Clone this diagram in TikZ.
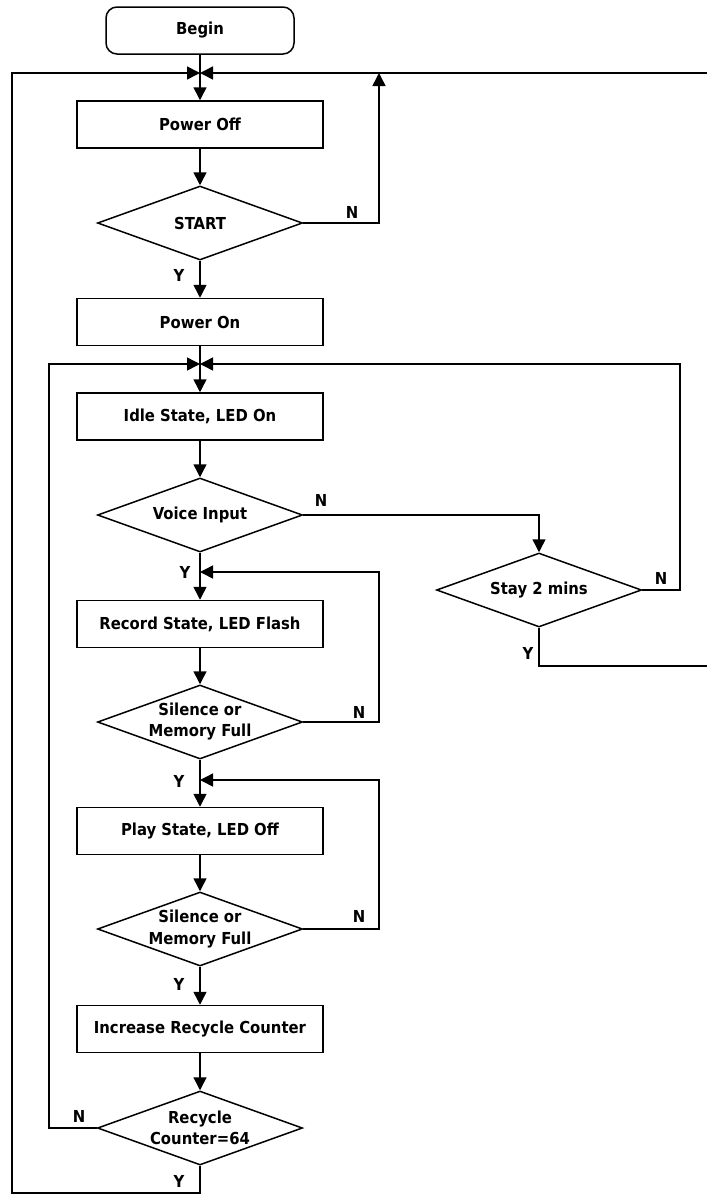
\documentclass[tikz,border=0pt]{standalone}
\usepackage{fontspec}
\setmainfont{DejaVu Sans Condensed}
\usetikzlibrary{arrows.meta,shapes.geometric}
\begin{document}
\begin{tikzpicture}[x=1pt,y=-1pt,
  font=\bfseries\fontsize{16.5}{21}\selectfont,
  line width=1.5pt,
  arr/.style={-{Triangle[length=13pt,width=13pt]}},
  procbox/.style={draw,rectangle,minimum width=246pt,minimum height=47pt,inner sep=0pt},
  termbox/.style={draw,rectangle,rounded corners=11pt,minimum width=188pt,minimum height=47pt,inner sep=0pt},
  decis/.style={draw,diamond,minimum width=205pt,minimum height=74pt,inner sep=0pt},
  txt/.style={align=center,inner sep=0pt},
  lbl/.style={inner sep=0pt}]
\useasboundingbox (0,0) rectangle (707,1194);

% nodes
\node[termbox] (begin) at (200,30.5) {Begin};
\coordinate (j1) at (200,73);
\node[procbox] (poweroff) at (200,124.5) {Power Off};
\node[decis] (start) at (200,223) {};
\node[txt] (starttxt) at (start) {START};
\node[procbox] (poweron) at (200,322) {Power On};
\coordinate (j2) at (200,364);
\node[procbox] (idle) at (200,416.5) {Idle State, LED On};
\node[decis] (voice) at (200,515) {};
\node[txt] (voicetxt) at (voice) {Voice Input};
\node[decis] (stay) at (539,590) {};
\node[txt] (staytxt) at (stay) {Stay 2 mins};
\coordinate (j3) at (200,572);
\node[procbox] (record) at (200,624) {Record State, LED Flash};
\node[decis] (sil1) at (200,722) {};
\node[txt] (sil1txt) at (sil1) {Silence or\\Memory Full};
\coordinate (j4) at (200,780);
\node[procbox] (play) at (200,831) {Play State, LED Off};
\node[decis] (sil2) at (200,929) {};
\node[txt] (sil2txt) at (sil2) {Silence or\\Memory Full};
\node[procbox] (incr) at (200,1029) {Increase Recycle Counter};
\node[decis] (recyc) at (200,1128) {};
\node[txt] (recyctxt) at (recyc) {Recycle\\Counter=64};

% helper coordinates
\coordinate (topright) at (707,73);
\coordinate (startn) at (379,73);
\coordinate (stayr) at (680,590);
\coordinate (stayybot) at (539,666);
\coordinate (stayyend) at (707,666);
\coordinate (s1r) at (379,722);
\coordinate (s2r) at (379,929);
\coordinate (recl) at (49,1128);
\coordinate (recbot) at (200,1193);
\coordinate (outl) at (12,1193);
\coordinate (outtop) at (12,73);

% connectors
\draw (begin.south) -- (j1);
\draw[arr] (j1) -- (poweroff.north);
\draw[arr] (poweroff.south) -- (start.north);
\draw[arr] (start.east) -| (startn);
\draw[arr] (topright) -- (j1);
\draw[arr] (start.south) -- (poweron.north);
\draw (poweron.south) -- (j2);
\draw[arr] (j2) -- (idle.north);
\draw[arr] (idle.south) -- (voice.north);
\draw[arr] (voice.east) -| (stay.north);
\draw[arr] (stay.east) -- (stayr) |- (j2);
\draw (stay.south) -- (stayybot) -- (stayyend);
\draw (voice.south) -- (j3);
\draw[arr] (j3) -- (record.north);
\draw[arr] (record.south) -- (sil1.north);
\draw[arr] (sil1.east) -- (s1r) |- (j3);
\draw (sil1.south) -- (j4);
\draw[arr] (j4) -- (play.north);
\draw[arr] (play.south) -- (sil2.north);
\draw[arr] (sil2.east) -- (s2r) |- (j4);
\draw[arr] (sil2.south) -- (incr.north);
\draw[arr] (incr.south) -- (recyc.north);
\draw[arr] (recyc.west) -- (recl) |- (j2);
\draw[arr] (recyc.south) -- (recbot) -- (outl) -- (outtop) -- (j1);

% labels
\node[lbl] (n1) at (352,212) {N};
\node[lbl] (y1) at (179,275) {Y};
\node[lbl] (n2) at (321,500) {N};
\node[lbl] (n3) at (661,578) {N};
\node[lbl] (y2) at (528,653) {Y};
\node[lbl] (y3) at (185,572) {Y};
\node[lbl] (n4) at (359,712) {N};
\node[lbl] (y4) at (179,781) {Y};
\node[lbl] (n5) at (359,916) {N};
\node[lbl] (y5) at (179,984) {Y};
\node[lbl] (n6) at (79,1116) {N};
\node[lbl] (y6) at (179,1181) {Y};
\end{tikzpicture}
\end{document}
